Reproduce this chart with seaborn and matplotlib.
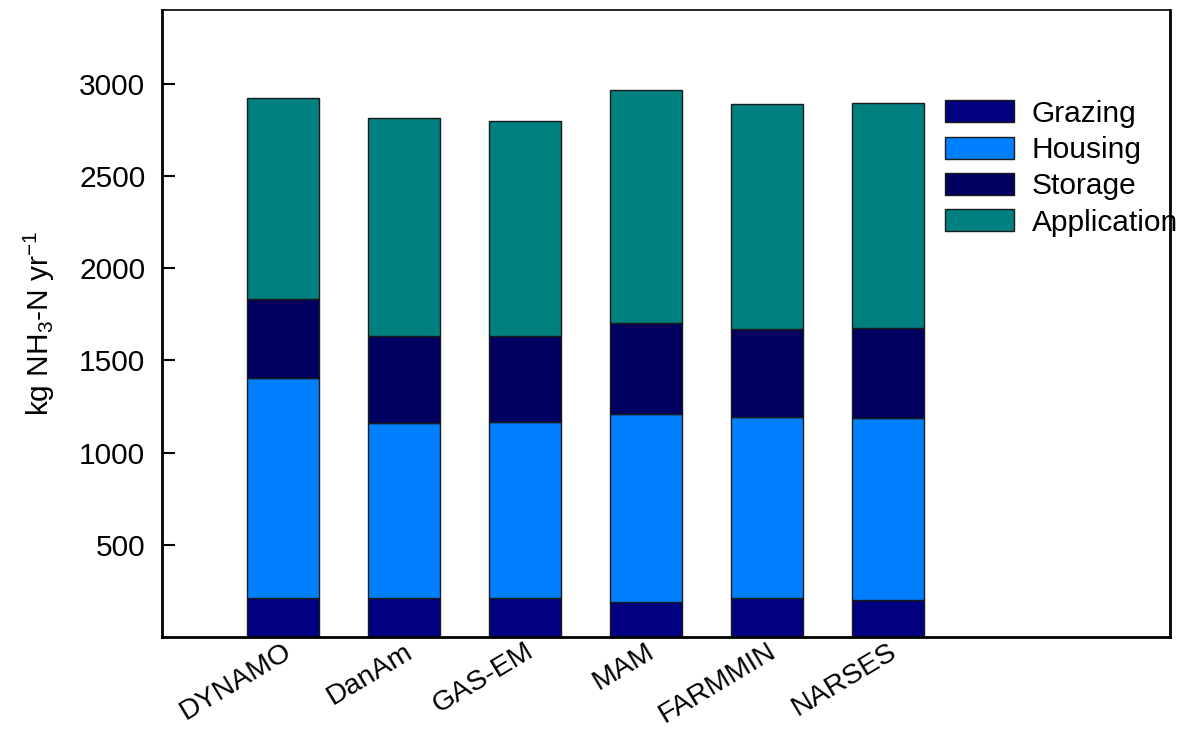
import numpy as np
import pandas as pd
import matplotlib
matplotlib.use("Agg")
import matplotlib.pyplot as plt
import seaborn as sns
from matplotlib.patches import Patch

models = ["DYNAMO", "DanAm", "GAS-EM", "MAM", "FARMMIN", "NARSES"]
grazing = [213, 213, 213, 192, 213, 202]
housing = [1191, 947, 953, 1017, 980, 986]
storage = [427, 471, 465, 492, 476, 486]
application = [1093, 1185, 1169, 1266, 1223, 1223]

series = ["Grazing", "Housing", "Storage", "Application"]
colors = ["#000080", "#0080FF", "#000060", "#008080"]

sns.set_theme(style="white")
plt.rcParams['font.family'] = ['Liberation Sans', 'DejaVu Sans']
plt.rcParams['mathtext.default'] = 'regular'
plt.rcParams['text.color'] = 'black'
plt.rcParams['axes.labelcolor'] = 'black'
plt.rcParams['xtick.color'] = 'black'
plt.rcParams['ytick.color'] = 'black'

fs = 21.5

fig = plt.figure(figsize=(11.78, 7.30), dpi=100)
ax = fig.add_axes([162/1178, 1-637/730, (1170-162)/1178, (637-10)/730])

data = [grazing, housing, storage, application]
bottom = np.zeros(len(models))
for name, vals, col in zip(series, data, colors):
    df = pd.DataFrame({"model": models, "value": vals})
    sns.barplot(data=df, x="model", y="value", color=col, width=0.6,
                bottom=bottom, ax=ax, edgecolor="#1a1a1a", linewidth=1.0,
                saturation=1)
    bottom = bottom + np.array(vals)

ax.set_xlim(-1, 7.33)
ax.set_ylim(0, 3400)
ax.set_yticks([500, 1000, 1500, 2000, 2500, 3000])
ax.tick_params(axis="y", direction="in", length=9, width=1.5, labelsize=fs, pad=12, left=True)
ax.tick_params(axis="x", length=0, labelsize=20.5, pad=1)
plt.setp(ax.get_xticklabels(), rotation=31, ha="right", rotation_mode="anchor")
ax.set_xlabel("")
ax.set_ylabel("kg NH$_3$-N yr$^{-1}$", fontsize=fs, labelpad=16)

for s in ["top", "right", "left", "bottom"]:
    ax.spines[s].set_color("black")
ax.spines["top"].set_linewidth(1.2)
for s in ["left", "bottom", "right"]:
    ax.spines[s].set_linewidth(2.0)

handles = [Patch(facecolor=c, edgecolor="#1a1a1a", linewidth=1.0, label=n) for n, c in zip(series, colors)]
ax.legend(handles=handles, loc="upper left", bbox_to_anchor=(0.777, 0.857), frameon=False,
          fontsize=fs, handlelength=2.3, handleheight=0.75, labelspacing=0.28, handletextpad=0.6,
          borderaxespad=0, borderpad=0)

fig.savefig("out.png", dpi=100)
